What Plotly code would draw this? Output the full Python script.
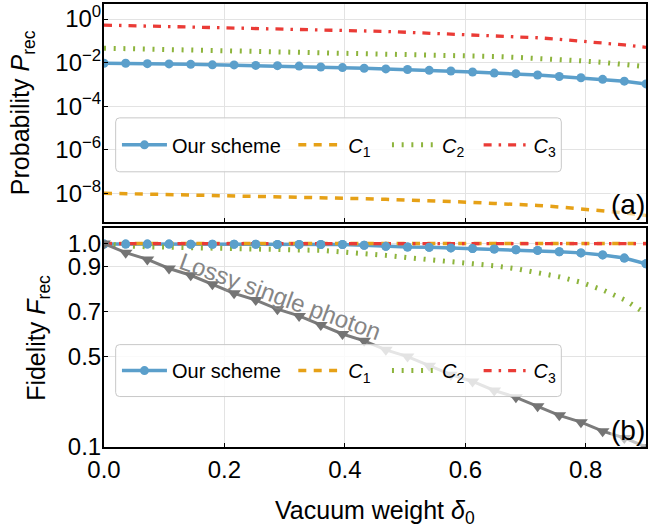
import plotly.graph_objects as go

# ---------------- data ----------------
delta = [0.000, 0.036, 0.072, 0.108, 0.144, 0.180, 0.216, 0.252, 0.288, 0.324,
         0.360, 0.396, 0.432, 0.468, 0.504, 0.540, 0.576, 0.612, 0.648, 0.684,
         0.720, 0.756, 0.792, 0.828, 0.864, 0.900]

P_ours = [9.3e-3, 9.3e-3, 8.9e-3, 8.7e-3, 8.3e-3, 7.9e-3, 7.8e-3, 7.4e-3, 7.2e-3, 6.9e-3,
          6.3e-3, 5.9e-3, 5.5e-3, 5.1e-3, 4.8e-3, 4.4e-3, 4.1e-3, 3.7e-3, 3.3e-3, 3.1e-3,
          2.7e-3, 2.3e-3, 2.0e-3, 1.7e-3, 1.4e-3, 1.05e-3]
P_C1 = [1.00e-8, 9.55e-9, 9.12e-9, 8.91e-9, 8.51e-9, 8.13e-9, 7.76e-9, 7.59e-9, 7.24e-9, 6.92e-9,
        6.61e-9, 6.17e-9, 5.62e-9, 5.25e-9, 4.90e-9, 4.57e-9, 4.17e-9, 3.80e-9, 3.39e-9, 3.09e-9,
        2.75e-9, 2.34e-9, 1.95e-9, 1.58e-9, 1.26e-9, 9.5e-10]
P_C2 = [0.0457, 0.0437, 0.0417, 0.0407, 0.0389, 0.0372, 0.0355, 0.0339, 0.0324, 0.0309,
        0.0295, 0.0288, 0.0275, 0.0263, 0.0251, 0.0234, 0.0219, 0.0204, 0.0191, 0.0174,
        0.0158, 0.0141, 0.0120, 0.0102, 0.00832, 0.00646]
P_C3 = [0.525, 0.501, 0.479, 0.457, 0.437, 0.417, 0.398, 0.380, 0.363, 0.347,
        0.331, 0.309, 0.288, 0.269, 0.245, 0.224, 0.209, 0.191, 0.174, 0.158,
        0.138, 0.117, 0.0977, 0.0794, 0.0646, 0.0501]

F_ours = [0.998, 0.998, 0.998, 0.998, 0.997, 0.997, 0.997, 0.997, 0.996, 0.996,
          0.996, 0.996, 0.993, 0.988, 0.985, 0.984, 0.981, 0.978, 0.976, 0.973,
          0.970, 0.964, 0.959, 0.950, 0.936, 0.911]
F_C1 = [1.0, 1.0, 1.0, 1.0, 1.0, 1.0, 1.0, 1.0, 1.0, 1.0, 1.0, 1.0, 1.0,
        1.0, 1.0, 1.0, 1.0, 1.0, 1.0, 1.0, 1.0, 1.0, 1.0, 1.0, 1.0, 1.0]
F_C2 = [1.0, 0.990, 0.986, 0.984, 0.983, 0.982, 0.981, 0.979, 0.977, 0.974,
        0.970, 0.963, 0.957, 0.948, 0.938, 0.930, 0.921, 0.912, 0.902, 0.889,
        0.873, 0.853, 0.829, 0.795, 0.752, 0.690]
F_C3 = [1.0, 1.0, 1.0, 1.0, 1.0, 1.0, 1.0, 1.0, 1.0, 1.0, 1.0, 1.0, 1.0,
        1.0, 1.0, 1.0, 1.0, 1.0, 1.0, 1.0, 1.0, 1.0, 1.0, 1.0, 1.0, 1.0]
F_lossy = [1.0, 0.96, 0.93, 0.89, 0.86, 0.82, 0.78, 0.75, 0.71, 0.68,
           0.64, 0.60, 0.57, 0.53, 0.50, 0.46, 0.42, 0.39, 0.35, 0.32,
           0.28, 0.24, 0.21, 0.17, 0.14, 0.10]

series_names = ["Our scheme", "<i>C</i><sub>1</sub>", "<i>C</i><sub>2</sub>", "<i>C</i><sub>3</sub>"]
x_ticks = [0.0, 0.2, 0.4, 0.6, 0.8]
x_ticktext = ["0.0", "0.2", "0.4", "0.6", "0.8"]
p_ticks = [1e-8, 1e-6, 1e-4, 1e-2, 1]
p_ticktext = ["10<sup>\u22128</sup>", "10<sup>\u22126</sup>", "10<sup>\u22124</sup>",
              "10<sup>\u22122</sup>", "10<sup>0</sup>"]
f_ticks = [0.1, 0.5, 0.7, 0.9, 1.0]
f_ticktext = ["0.1", "0.5", "0.7", "0.9", "1.0"]

# ---------------- styles ----------------
BLUE = "#5b9fcb"
ORANGE = "#e6a117"
GREEN = "#8db43c"
RED = "#ea3b36"
GRAY = "#7c7c7c"
FONT = "Liberation Sans, Arial, sans-serif"

W, H = 648, 530
ML, MR, MT, MB = 104, 0, 4, 82.5
PH = H - MT - MB
PW = W - ML - MR


def px_x(px):
    return (px - ML) / PW


def px_y(py):
    return (H - MB - py) / PH


top_dom = [px_y(222), 1.0]
bot_dom = [0.0, px_y(228.5)]

line_styles = [
    dict(color=BLUE, width=3.5),
    dict(color=ORANGE, width=3.5, dash="8px,7.4px"),
    dict(color=GREEN, width=5, dash="2px,7.7px"),
    dict(color=RED, width=3.3, dash="8px,7px,2.5px,7px"),
]

fig = go.Figure()

top_series = [P_ours, P_C1, P_C2, P_C3]
bot_series = [F_ours, F_C1, F_C2, F_C3]

# top panel
for k, (name, yv) in enumerate(zip(series_names, top_series)):
    fig.add_trace(go.Scatter(
        x=delta, y=yv, name=name, xaxis="x", yaxis="y",
        mode="lines+markers" if k == 0 else "lines",
        line=line_styles[k],
        marker=dict(size=9, color=BLUE) if k == 0 else None,
        legend="legend" if k == 0 else f"legend{k + 1}",
        showlegend=True,
    ))

# bottom panel
for k, (name, yv) in enumerate(zip(series_names, bot_series)):
    fig.add_trace(go.Scatter(
        x=delta, y=yv, name=name, xaxis="x2", yaxis="y2",
        mode="lines+markers" if k == 0 else "lines",
        line=line_styles[k],
        marker=dict(size=9, color=BLUE) if k == 0 else None,
        legend=f"legend{k + 5}",
        showlegend=True,
    ))
# blue markers on top of the flat reference lines
fig.add_trace(go.Scatter(
    x=delta, y=F_ours, xaxis="x2", yaxis="y2", mode="markers",
    marker=dict(size=9, color=BLUE), showlegend=False, hoverinfo="skip",
))
# lossy single photon
fig.add_trace(go.Scatter(
    x=delta, y=F_lossy, xaxis="x2", yaxis="y2", mode="lines+markers",
    line=dict(color=GRAY, width=3), marker=dict(symbol="triangle-down", size=12, color="#747474"),
    showlegend=False,
))

axis_common = dict(
    showline=True, linecolor="black", linewidth=2, mirror=True,
    ticks="inside", ticklen=4, tickcolor="black", tickwidth=1.2,
    showgrid=True, gridcolor="#e3e3e3", gridwidth=1, zeroline=False,
    tickfont=dict(family=FONT, size=24, color="black"),
)

# legends: one per item for exact placement
legend_layout = {}
sample_starts = [122, 299, 393, 485]
for panel, cy in enumerate([145, 371]):
    for k, sx in enumerate(sample_starts):
        idx = panel * 4 + k + 1
        key = "legend" if idx == 1 else f"legend{idx}"
        legend_layout[key] = dict(
            x=px_x(sx - 5), y=px_y(cy), xanchor="left", yanchor="middle",
            orientation="h", bgcolor="rgba(0,0,0,0)", borderwidth=0,
            font=dict(family=FONT, size=20, color="black"), itemwidth=45,
        )


def rounded_rect(x0, y0, x1, y1, r):
    def P(x, y):
        return f"{px_x(x):.5f},{px_y(y):.5f}"
    pts = [
        f"M{P(x0 + r, y0)}", f"L{P(x1 - r, y0)}", f"Q{P(x1, y0)} {P(x1, y0 + r)}",
        f"L{P(x1, y1 - r)}", f"Q{P(x1, y1)} {P(x1 - r, y1)}", f"L{P(x0 + r, y1)}",
        f"Q{P(x0, y1)} {P(x0, y1 - r)}", f"L{P(x0, y0 + r)}", f"Q{P(x0, y0)} {P(x0 + r, y0)}", "Z",
    ]
    return " ".join(pts)


shapes = []
for (y0, y1) in [(118, 172), (345, 397)]:
    shapes.append(dict(
        type="path", xref="paper", yref="paper", layer="above",
        path=rounded_rect(115.7, y0, 563, y1, 4),
        fillcolor="rgba(255,255,255,0.8)", line=dict(color="#c8c8c8", width=1),
    ))

annotations = [
    dict(text="Probability <i>P</i><sub>rec</sub>", xref="paper", yref="paper",
         x=px_x(22), y=px_y(113), textangle=-90, showarrow=False,
         xanchor="center", yanchor="middle", font=dict(family=FONT, size=25, color="black")),
    dict(text="Fidelity <i>F</i><sub>rec</sub>", xref="paper", yref="paper",
         x=px_x(37), y=px_y(338), textangle=-90, showarrow=False,
         xanchor="center", yanchor="middle", font=dict(family=FONT, size=25, color="black")),
    dict(text="Vacuum weight <i>\u03b4</i><sub>0</sub>", xref="paper", yref="paper",
         x=px_x(376), y=px_y(495), showarrow=False, xanchor="center", yanchor="top",
         font=dict(family=FONT, size=25, color="black")),
    dict(text="(a)", xref="paper", yref="paper", x=1.0, y=px_y(221),
         xanchor="right", yanchor="bottom", showarrow=False, bgcolor="rgba(255,255,255,0.55)",
         borderpad=0, font=dict(family=FONT, size=28, color="black")),
    dict(text="(b)", xref="paper", yref="paper", x=1.0, y=px_y(447),
         xanchor="right", yanchor="bottom", showarrow=False, bgcolor="rgba(255,255,255,0.55)",
         borderpad=0, font=dict(family=FONT, size=28, color="black")),
    dict(text="Lossy single photon", xref="x2", yref="y2", x=0.293, y=0.764,
         textangle=20, showarrow=False, xanchor="center", yanchor="middle",
         font=dict(family=FONT, size=24, color="#858585")),
]

fig.update_layout(
    width=W, height=H,
    margin=dict(l=ML, r=MR, t=MT, b=MB, pad=0),
    paper_bgcolor="white", plot_bgcolor="white",
    xaxis=dict(domain=[0, 1], range=[0, 0.9], anchor="y", tickvals=x_ticks,
               showticklabels=False, **axis_common),
    yaxis=dict(domain=top_dom, type="log", range=[-9.31, 0.69], anchor="x",
               tickvals=p_ticks, ticktext=p_ticktext, ticklabelstandoff=-4, **axis_common),
    xaxis2=dict(domain=[0, 1], range=[0, 0.9], anchor="y2", tickvals=x_ticks,
                ticktext=x_ticktext, **axis_common),
    yaxis2=dict(domain=bot_dom, range=[0.1, 1.068], anchor="x2",
                tickvals=f_ticks, ticktext=f_ticktext, ticklabelstandoff=-4, **axis_common),
    shapes=shapes,
    annotations=annotations,
    **legend_layout,
)

fig.write_html("out.html", config={"displayModeBar": False},
               post_script="document.body.style.margin='0';")
